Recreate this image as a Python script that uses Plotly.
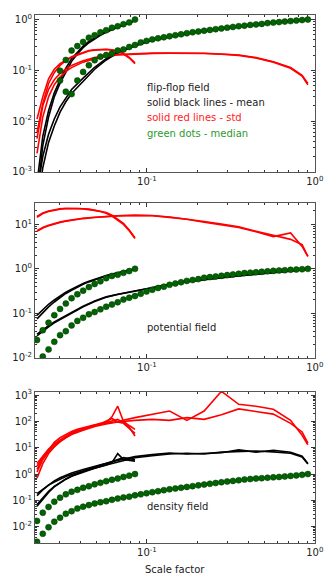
import plotly.graph_objects as go
from plotly.subplots import make_subplots

# scale factor grids
a_short = [0.02213, 0.02395, 0.02593, 0.02805, 0.03036, 0.03286, 0.03556, 0.03849, 0.04165,
           0.04508, 0.04879, 0.0528, 0.05715, 0.06185, 0.06694, 0.07244, 0.0784, 0.08485]
a_long = [0.02213, 0.02395, 0.02593, 0.02805, 0.03036, 0.03286, 0.03556, 0.03849, 0.04165,
          0.04508, 0.04879, 0.0528, 0.05715, 0.06185, 0.06694, 0.07244, 0.0784, 0.08485,
          0.09183, 0.09938, 0.1076, 0.1164, 0.126, 0.1363, 0.1476, 0.1597, 0.1728, 0.187,
          0.2024, 0.2191, 0.2371, 0.2566, 0.2777, 0.3005, 0.3252, 0.352, 0.3809, 0.4123,
          0.4462, 0.4829, 0.5226, 0.5656, 0.6121, 0.6625, 0.717, 0.776, 0.8399, 0.9091]
a_long_line = [0.02213, 0.02395, 0.02593, 0.02805, 0.03036, 0.03286, 0.03556, 0.04165, 0.04879,
               0.05715, 0.06694, 0.08485, 0.1076, 0.1363, 0.1728, 0.2191, 0.2777, 0.352,
               0.4462, 0.5656, 0.717, 0.8399, 0.9091]

# flip-flop field
ff_med_short = [None, None, None, None, 0.098, 0.16, 0.245, 0.30, 0.363, 0.44, 0.49, 0.56,
                0.617, 0.69, 0.74, 0.81, 0.88, 1.0]
ff_med_long = [None, None, None, None, 0.063, 0.038, 0.034, 0.063, 0.093, 0.126, 0.158, 0.186,
               0.20, 0.214, 0.245, 0.257, 0.288, 0.316, 0.355, 0.38, 0.407, 0.427, 0.447, 0.468,
               0.49, 0.513, 0.537, 0.562, 0.582, 0.603, 0.624, 0.646, 0.668, 0.692, 0.716, 0.741,
               0.759, 0.785, 0.804, 0.822, 0.851, 0.871, 0.891, 0.912, 0.933, 0.955, 0.977, 1.0]
ff_mean_short_1 = [0.0006, 0.005, 0.016, 0.036, 0.065, 0.11, 0.17, 0.23, 0.30, 0.37, 0.44, 0.51,
                   0.58, 0.65, 0.72, 0.79, 0.87, 0.96]
ff_mean_short_2 = [0.0003, 0.0033, 0.012, 0.03, 0.056, 0.095, 0.15, 0.21, 0.28, 0.35, 0.42, 0.49,
                   0.56, 0.63, 0.71, 0.78, 0.86, 0.95]
ff_mean_long_1 = [0.0004, 0.002, 0.0055, 0.011, 0.019, 0.029, 0.042, 0.07, 0.115, 0.17, 0.23,
                  0.31, 0.40, 0.46, 0.53, 0.60, 0.67, 0.74, 0.80, 0.87, 0.93, 0.97, 1.0]
ff_mean_long_2 = [0.0002, 0.0012, 0.0038, 0.008, 0.015, 0.024, 0.035, 0.062, 0.105, 0.16, 0.22,
                  0.30, 0.39, 0.455, 0.525, 0.595, 0.665, 0.735, 0.795, 0.865, 0.925, 0.965, 0.995]
ff_std_short_1 = [0.011, 0.03, 0.068, 0.105, 0.135, 0.16, 0.185, 0.205, 0.225, 0.245, 0.255, 0.26,
                  0.26, 0.255, 0.24, 0.215, 0.18, 0.14]
ff_std_short_2 = [0.006, 0.022, 0.055, 0.09, 0.125, 0.155, 0.18, 0.2, 0.22, 0.24, 0.25, 0.257,
                  0.258, 0.25, 0.235, 0.21, 0.175, 0.135]
ff_std_long_1 = [0.0045, 0.02, 0.042, 0.065, 0.087, 0.107, 0.125, 0.155, 0.178, 0.195, 0.205,
                 0.213, 0.218, 0.22, 0.22, 0.217, 0.21, 0.2, 0.178, 0.148, 0.114, 0.08, 0.055]
ff_std_long_2 = [0.0023, 0.012, 0.03, 0.052, 0.074, 0.095, 0.113, 0.145, 0.17, 0.19, 0.2, 0.21,
                 0.215, 0.217, 0.218, 0.215, 0.207, 0.197, 0.175, 0.145, 0.11, 0.077, 0.052]

# potential field
pot_med_short = [0.0251, 0.0417, 0.0617, 0.0912, 0.126, 0.166, 0.219, 0.269, 0.324, 0.389, 0.457,
                 0.525, 0.617, 0.692, 0.741, 0.813, 0.891, 1.0]
pot_med_long = [0.0063, 0.0107, 0.0155, 0.0229, 0.0324, 0.0398, 0.0537, 0.0676, 0.0794, 0.0955,
                0.107, 0.123, 0.141, 0.158, 0.178, 0.204, 0.224, 0.245, 0.275, 0.309, 0.339, 0.372,
                0.398, 0.437, 0.468, 0.501, 0.537, 0.562, 0.589, 0.631, 0.653, 0.676, 0.70, 0.724,
                0.75, 0.776, 0.804, 0.822, 0.841, 0.861, 0.881, 0.902, 0.916, 0.933, 0.951, 0.966,
                0.982, 1.0]
pot_mean_short_1 = [0.09, 0.12, 0.16, 0.20, 0.25, 0.30, 0.35, 0.41, 0.47, 0.53, 0.59, 0.65, 0.71,
                    0.77, 0.83, 0.88, 0.94, 1.0]
pot_mean_short_2 = [0.075, 0.105, 0.14, 0.18, 0.23, 0.28, 0.33, 0.39, 0.45, 0.51, 0.57, 0.63, 0.69,
                    0.75, 0.81, 0.87, 0.93, 0.99]
pot_mean_long_1 = [0.034, 0.043, 0.053, 0.064, 0.075, 0.088, 0.102, 0.145, 0.19, 0.235, 0.27, 0.32,
                   0.39, 0.45, 0.52, 0.58, 0.64, 0.70, 0.76, 0.82, 0.89, 0.95, 1.0]
pot_mean_long_2 = [0.031, 0.04, 0.05, 0.061, 0.072, 0.085, 0.099, 0.14, 0.185, 0.23, 0.265, 0.315,
                   0.385, 0.445, 0.515, 0.575, 0.635, 0.695, 0.755, 0.815, 0.885, 0.945, 0.995]
pot_std_short_1 = [15, 18, 20, 21.5, 22.5, 23, 23, 23, 22.5, 22, 21, 20, 18.5, 16, 13, 10.5, 7.5, 5]
pot_std_short_2 = [14.5, 17.5, 19.5, 21, 22, 22.5, 22.8, 22.7, 22.3, 21.6, 20.6, 19.4, 17.8, 15.4,
                   12.6, 10, 7.2, 4.8]
pot_std_long_1 = [7.2, 8.5, 9.5, 10.5, 11.3, 12, 12.7, 13.7, 14.5, 15.1, 15.6, 16, 15.8, 14.6, 13.2,
                  11.6, 10.2, 8.8, 7.0, 5.6, 4.6, 3.5, 1.9]
pot_std_long_2 = [7.0, 8.3, 9.3, 10.3, 11.1, 11.8, 12.5, 13.5, 14.3, 15.0, 15.5, 15.9, 15.6, 14.4,
                  13.0, 11.2, 9.8, 8.5, 6.8, 5.3, 6.4, 3.2, 1.9]

# density field
den_med_short = [0.0166, 0.0339, 0.0562, 0.0891, 0.126, 0.17, 0.214, 0.251, 0.302, 0.347, 0.407,
                 0.468, 0.537, 0.603, 0.676, 0.776, 0.871, 1.0]
den_med_long = [0.00269, 0.00537, 0.00955, 0.0155, 0.0219, 0.0309, 0.0389, 0.049, 0.0575, 0.0661,
                0.0759, 0.0851, 0.0933, 0.105, 0.117, 0.129, 0.138, 0.155, 0.17, 0.186, 0.204,
                0.224, 0.245, 0.263, 0.282, 0.302, 0.324, 0.347, 0.372, 0.398, 0.427, 0.457, 0.49,
                0.519, 0.55, 0.582, 0.617, 0.646, 0.676, 0.70, 0.724, 0.75, 0.776, 0.813, 0.851,
                0.891, 0.933, 1.0]
den_mean_short_1 = [0.18, 0.27, 0.38, 0.5, 0.64, 0.8, 0.97, 1.15, 1.35, 1.6, 1.85, 2.15, 2.5, 3.0,
                    3.6, 4.2, 3.9, 3.5]
den_mean_short_2 = [0.06, 0.11, 0.2, 0.33, 0.48, 0.65, 0.85, 1.05, 1.25, 1.45, 1.65, 1.9, 2.2, 2.7,
                    6.0, 3.6, 3.3, 3.1]
den_mean_long_1 = [0.15, 0.25, 0.38, 0.55, 0.72, 0.9, 1.1, 1.5, 2.0, 2.6, 3.3, 4.6, 5.5, 6.3, 5.8,
                   6.3, 6.5, 8.3, 6.8, 8.0, 6.8, 4.8, 2.5]
den_mean_long_2 = [0.07, 0.13, 0.22, 0.34, 0.48, 0.64, 0.82, 1.2, 1.65, 2.2, 2.9, 4.2, 5.0, 5.8, 6.2,
                   5.8, 6.8, 7.0, 7.5, 7.0, 6.2, 4.5, 2.4]
den_std_short_1 = [2.5, 5, 9, 14, 20, 28, 38, 45, 52, 60, 70, 80, 95, 110, 120, 90, 60, 28]
den_std_short_2 = [0.7, 2.5, 6, 11, 17, 25, 35, 42, 50, 62, 75, 85, 90, 150, 380, 100, 70, 50]
den_std_short_3 = [1.5, 4, 8, 16, 24, 33, 42, 50, 58, 66, 75, 82, 100, 130, 95, 85, 55, 35]
den_std_long_1 = [2.0, 4.5, 8, 13, 19, 27, 35, 50, 70, 85, 100, 140, 190, 250, 110, 250, 1400, 450,
                  380, 290, 110, 30, 13]
den_std_long_2 = [1.2, 3.5, 7, 11, 17, 24, 32, 46, 65, 80, 95, 110, 120, 110, 140, 120, 180, 300,
                  245, 190, 85, 40, 15]

x_tickvals = [0.1, 1]
x_ticktext = ["10<sup>-1</sup>", "10<sup>0</sup>"]
y_tickvals = [[0.001, 0.01, 0.1, 1], [0.01, 0.1, 1, 10], [0.01, 0.1, 1, 10, 100, 1000]]
y_ticktext = [["10<sup>-3</sup>", "10<sup>-2</sup>", "10<sup>-1</sup>", "10<sup>0</sup>"],
              ["10<sup>-2</sup>", "10<sup>-1</sup>", "10<sup>0</sup>", "10<sup>1</sup>"],
              ["10<sup>-2</sup>", "10<sup>-1</sup>", "10<sup>0</sup>", "10<sup>1</sup>",
               "10<sup>2</sup>", "10<sup>3</sup>"]]
y_ranges = [[-3.003, 0.09], [-2.003, 1.48], [-2.62, 3.12]]
domains = [[0.7027, 1.0], [0.3504, 0.6439], [0.0, 0.286]]

panels = [
    dict(mean=[(a_short, ff_mean_short_1), (a_short, ff_mean_short_2),
               (a_long_line, ff_mean_long_1), (a_long_line, ff_mean_long_2)],
         std=[(a_short, ff_std_short_1), (a_short, ff_std_short_2),
              (a_long_line, ff_std_long_1), (a_long_line, ff_std_long_2)],
         med=[(a_short, ff_med_short), (a_long, ff_med_long)]),
    dict(mean=[(a_short, pot_mean_short_1), (a_short, pot_mean_short_2),
               (a_long_line, pot_mean_long_1), (a_long_line, pot_mean_long_2)],
         std=[(a_short, pot_std_short_1), (a_short, pot_std_short_2),
              (a_long_line, pot_std_long_1), (a_long_line, pot_std_long_2)],
         med=[(a_short, pot_med_short), (a_long, pot_med_long)]),
    dict(mean=[(a_short, den_mean_short_1), (a_short, den_mean_short_2),
               (a_long_line, den_mean_long_1), (a_long_line, den_mean_long_2)],
         std=[(a_short, den_std_short_1), (a_short, den_std_short_2), (a_short, den_std_short_3),
              (a_long_line, den_std_long_1), (a_long_line, den_std_long_2)],
         med=[(a_short, den_med_short), (a_long, den_med_long)]),
]

fig = make_subplots(rows=3, cols=1)
for r, p in enumerate(panels, start=1):
    for x, y in p["mean"]:
        fig.add_trace(go.Scatter(x=x, y=y, mode="lines", line=dict(color="black", width=1.6),
                                 showlegend=False), row=r, col=1)
    for x, y in p["std"]:
        fig.add_trace(go.Scatter(x=x, y=y, mode="lines", line=dict(color="#ff0000", width=1.6),
                                 showlegend=False), row=r, col=1)
    for x, y in p["med"]:
        fig.add_trace(go.Scatter(x=x, y=y, mode="markers",
                                 marker=dict(color="#006400", size=6,
                                             line=dict(color="#003000", width=0.5)),
                                 showlegend=False), row=r, col=1)

minor_vals = [m * 10.0 ** e for e in range(-4, 4) for m in range(2, 10)]
axis_common = dict(type="log", showgrid=False, zeroline=False, showline=True, linecolor="#555",
                   linewidth=1, mirror="allticks", ticks="inside", ticklen=4, tickcolor="#333",
                   automargin=False,
                   tickfont=dict(family="DejaVu Sans", size=10, color="#222"),
                   minor=dict(tickmode="array", tickvals=minor_vals, ticks="inside", ticklen=2,
                              tickcolor="#333"))
for r in range(1, 4):
    fig.update_xaxes(axis_common, range=[-1.667, 0.001], tickvals=x_tickvals, ticktext=x_ticktext,
                     domain=[0, 1], row=r, col=1)
    fig.update_yaxes(axis_common, range=y_ranges[r - 1], tickvals=y_tickvals[r - 1],
                     ticktext=y_ticktext[r - 1], domain=domains[r - 1], row=r, col=1)

txt = dict(xref="paper", yref="paper", xanchor="left", yanchor="middle", showarrow=False,
           font=dict(family="DejaVu Sans", size=10))
notes = [("flip-flop field", "#222", 0.8636), ("solid black lines - mean", "#222", 0.8352),
         ("solid red lines - std", "#ff2020", 0.8059), ("green dots - median", "#2a9a2a", 0.7765),
         ("potential field", "#222", 0.409), ("density field", "#222", 0.0682)]
for t, c, y in notes:
    fig.add_annotation(txt, x=0.393, y=y, text=t, font_color=c)
fig.add_annotation(txt, x=0.5, xanchor="center", y=-0.0511, text="Scale factor", font_color="#222")

fig.update_layout(width=326, height=579, margin=dict(l=35, r=11, t=15, b=36, autoexpand=False),
                  plot_bgcolor="white", paper_bgcolor="white",
                  font=dict(family="DejaVu Sans", size=10, color="#222"))
fig.write_html("out.html", config={"displayModeBar": False},
               post_script="document.body.style.margin='0';document.body.style.padding='0';")
